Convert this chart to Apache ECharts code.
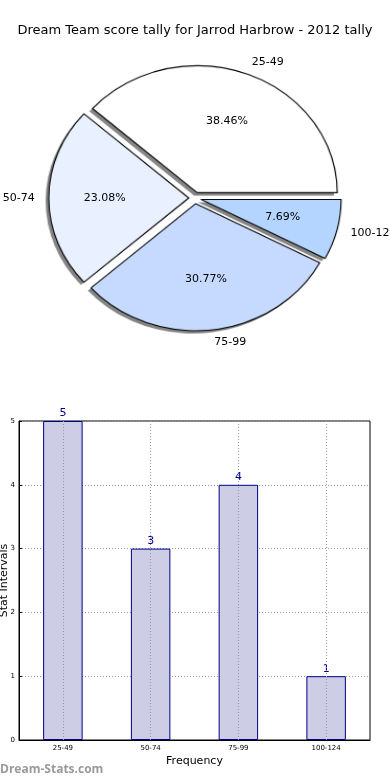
<!DOCTYPE html>
<html><head><meta charset="utf-8">
<script src="https://cdn.jsdelivr.net/npm/echarts@6/dist/echarts.min.js"></script>
<style>
html,body{margin:0;padding:0;background:#fff}
#wrap{position:relative;width:390px;height:780px}
#c{position:absolute;left:0;top:0;width:390px;height:780px}
#p{position:absolute;left:0;top:0;width:390px;height:400px;pointer-events:none}
</style>
</head><body><div id="wrap"><div id="p"></div><div id="c"></div></div><script>
const chartTitle = 'Dream Team score tally for Jarrod Harbrow - 2012 tally';
const categories = ['25-49', '50-74', '75-99', '100-124'];
const counts = [5, 3, 4, 1];
const sliceColors = ['#ffffff', '#e9f0ff', '#c6daff', '#b4d5ff'];
const yTicks = [0, 1, 2, 3, 4, 5];
const xAxisName = 'Frequency';
const yAxisName = 'Stat Intervals';
const watermark = 'Dream-Stats.com';

const FONT = 'DejaVu Sans';
const PIE_CENTER = [195, 198];
const PIE_R = 134;
const RX = 140, RY = 127;                 // the original pie is slightly elliptical
const SX = RX / PIE_R, SY = RY / PIE_R;
const EXPLODE = 6;
const LABEL_DIST = 1.1, PCT_DIST = 0.6;

const pDiv = document.getElementById('p');
pDiv.style.transformOrigin = PIE_CENTER[0] + 'px ' + PIE_CENTER[1] + 'px';
pDiv.style.transform = 'scale(' + SX + ',' + SY + ')';

const total = counts.reduce((a, b) => a + b, 0);
const midAngle = (i) => {
  let before = 0;
  for (let k = 0; k < i; k++) before += counts[k];
  return (before + counts[i] / 2) / total * 2 * Math.PI;
};

const pieData = (color) => categories.map((c, i) => ({
  name: c, value: counts[i], selected: true,
  itemStyle: { color: color || sliceColors[i] }
}));

const basePie = {
  type: 'pie', center: PIE_CENTER, radius: PIE_R, startAngle: 0, clockwise: false,
  selectedMode: 'multiple', selectedOffset: EXPLODE, silent: true,
  avoidLabelOverlap: false, animation: false,
  emphasis: { disabled: true }
};

// shift labels to where the original put them (on the ellipse); the label already
// moves with its wedge's explode offset, so only the remaining difference is added
const ellipseLabel = (dist) => (p) => {
  const r = p.labelRect;
  let ax = r.x + r.width / 2;
  if (p.align === 'left') ax = r.x;
  else if (p.align === 'right') ax = r.x + r.width;
  const ay = r.y + r.height / 2;
  const a = midAngle(p.dataIndex);
  const c = Math.cos(a), s = Math.sin(a);
  const tx = PIE_CENTER[0] + EXPLODE * (SX - 1) * c + dist * RX * c;
  const ty = PIE_CENTER[1] - EXPLODE * (SY - 1) * s - dist * RY * s;
  return { dx: tx - ax, dy: ty - ay };
};

const pieChart = echarts.init(pDiv);
pieChart.setOption({
  animation: false,
  series: [
    Object.assign({}, basePie, {
      label: { show: false }, labelLine: { show: false },
      itemStyle: {
        borderWidth: 0,
        shadowColor: 'rgba(0,0,0,0.48)', shadowOffsetX: -3, shadowOffsetY: 3, shadowBlur: 0
      },
      data: pieData()
    }),
    Object.assign({}, basePie, {
      z: 3,
      itemStyle: { color: 'transparent', borderColor: '#000', borderWidth: 1.1 },
      label: { show: false }, labelLine: { show: false },
      data: pieData('transparent')
    })
  ]
});

const chart = echarts.init(document.getElementById('c'));
chart.setOption({
  animation: false,
  textStyle: { fontFamily: FONT },
  title: {
    text: chartTitle, left: 'center', top: 19,
    textStyle: { fontSize: 13, fontWeight: 'normal', color: '#000', fontFamily: FONT }
  },
  graphic: [{
    type: 'text', left: 0, top: 764,
    style: { text: watermark, fill: '#9a9a9a', font: 'bold 12px "Open Sans"' }
  }],
  grid: {
    left: 19, right: 20, top: 421, bottom: 40,
    containLabel: false, outerBoundsMode: 'none',
    show: true, borderColor: '#000', borderWidth: 1
  },
  xAxis: {
    type: 'category', data: categories,
    axisLine: { lineStyle: { color: '#000' } },
    axisTick: { show: false },
    axisLabel: { fontSize: 7, color: '#000', margin: 5 },
    splitLine: { show: false },
    name: xAxisName, nameLocation: 'middle', nameGap: 16,
    nameTextStyle: { fontSize: 11, color: '#000' }
  },
  yAxis: {
    type: 'value', min: yTicks[0], max: yTicks[yTicks.length - 1], interval: 1,
    axisLine: { show: true, lineStyle: { color: '#000' } },
    axisTick: { show: true, inside: true, length: 3, lineStyle: { color: '#000' } },
    axisLabel: { fontSize: 7, color: '#000', margin: 4 },
    splitLine: { show: true, lineStyle: { type: [1, 2], color: '#999', width: 1 } },
    name: yAxisName, nameLocation: 'middle', nameGap: 15, nameRotate: 90,
    nameMoveOverlap: false,
    nameTextStyle: { fontSize: 11, color: '#000', verticalAlign: 'middle', align: 'center' }
  },
  series: [
    Object.assign({}, basePie, {
      z: 3,
      itemStyle: { color: 'transparent', borderWidth: 0 },
      label: {
        show: true, position: 'outside', color: '#000', fontSize: 11, fontFamily: FONT,
        overflow: 'none', width: 80, edgeDistance: 0,
        formatter: p => p.name
      },
      labelLine: { show: false, length: 10, length2: 0 },
      labelLayout: ellipseLabel(LABEL_DIST),
      data: pieData('transparent')
    }),
    Object.assign({}, basePie, {
      z: 3,
      itemStyle: { color: 'transparent', borderWidth: 0 },
      label: {
        show: true, position: 'inside', color: '#000', fontSize: 11, fontFamily: FONT,
        formatter: p => p.percent.toFixed(2) + '%'
      },
      labelLine: { show: false },
      labelLayout: ellipseLabel(PCT_DIST),
      data: pieData('transparent')
    }),
    {
      type: 'bar', data: counts, barWidth: '45%',
      itemStyle: { color: '#cdcde6', borderColor: '#00008b', borderWidth: 1 },
      label: { show: true, position: 'top', color: '#00008b', fontSize: 11, distance: 2 },
      markLine: {
        silent: true, symbol: 'none', label: { show: false },
        lineStyle: { type: [1, 2], color: '#999', width: 1 },
        data: categories.map(c => ({ xAxis: c }))
      }
    }
  ]
});
</script></body></html>
